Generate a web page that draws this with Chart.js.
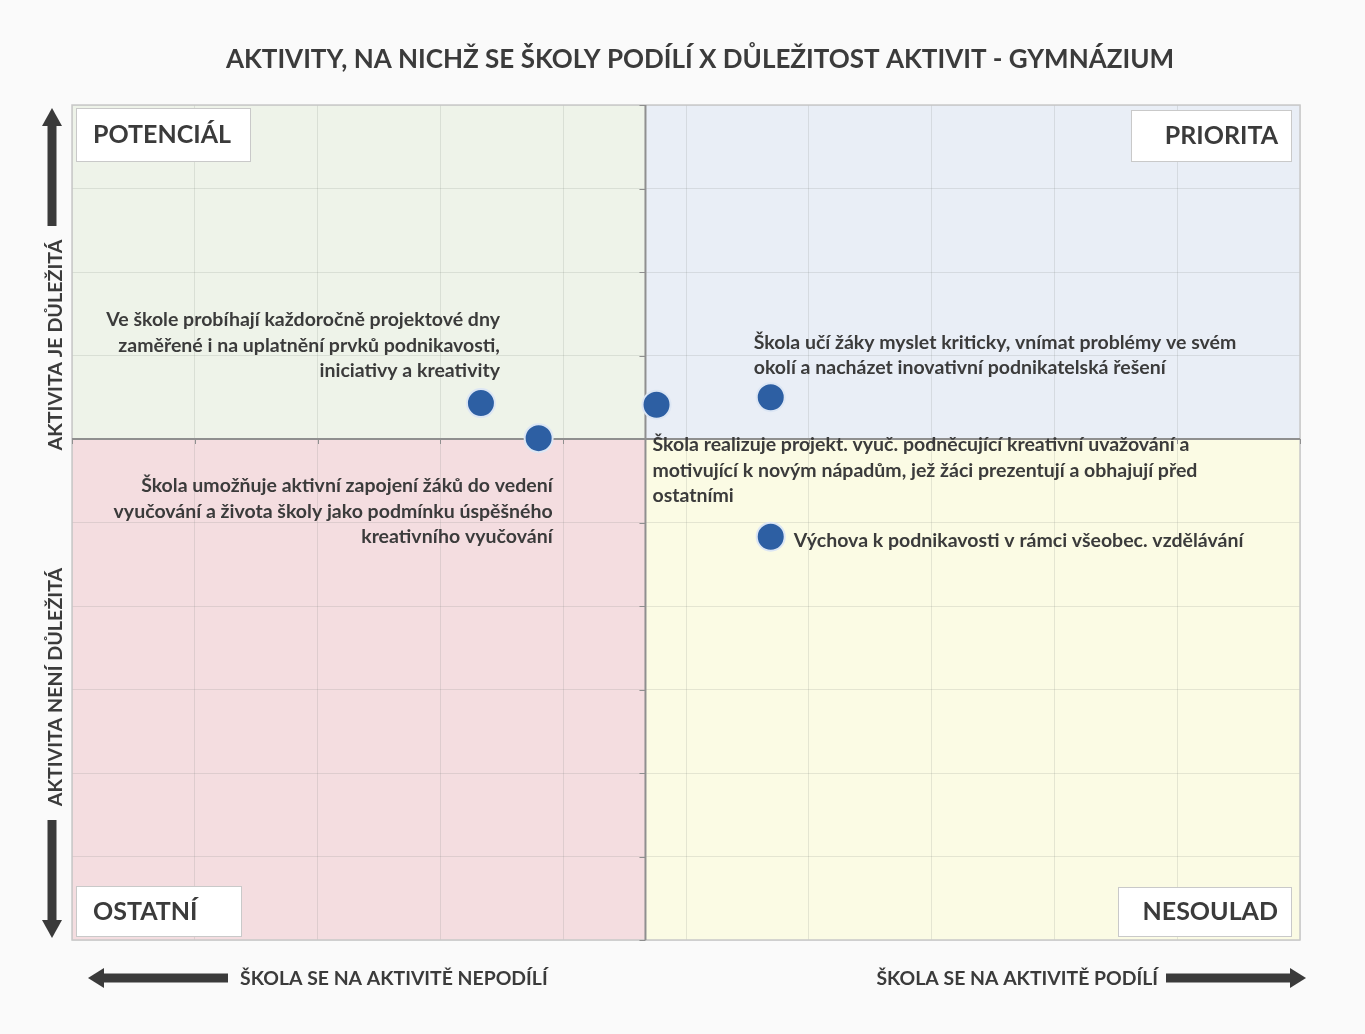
<!DOCTYPE html>
<html lang="cs">
<head>
<meta charset="utf-8">
<title>Aktivity x důležitost - gymnázium</title>
<script src="https://cdn.jsdelivr.net/npm/chart.js@4.4.1/dist/chart.umd.min.js"></script>
<style>
    html, body { margin: 0; padding: 0; background: #fafafa; }
    #wrap { width: 1365px; height: 1034px; position: relative; }
</style>
</head>
<body>
<div id="wrap"><canvas id="matrix" width="1365" height="1034"></canvas></div>
<script>
// Data
const chartTitle = 'AKTIVITY, NA NICHŽ SE ŠKOLY PODÍLÍ X DŮLEŽITOST AKTIVIT - GYMNÁZIUM';
const quadrantNames = ['POTENCIÁL', 'PRIORITA', 'OSTATNÍ', 'NESOULAD'];
const xAxisLabels = ['ŠKOLA SE NA AKTIVITĚ NEPODÍLÍ', 'ŠKOLA SE NA AKTIVITĚ PODÍLÍ'];
const yAxisLabels = ['AKTIVITA JE DŮLEŽITÁ', 'AKTIVITA NENÍ DŮLEŽITÁ'];

const activityLabels = [
    ['Ve škole probíhají každoročně projektové dny', 'zaměřené i na uplatnění prvků podnikavosti,', 'iniciativy a kreativity'],
    ['Škola umožňuje aktivní zapojení žáků do vedení', 'vyučování a života školy jako podmínku úspěšného', 'kreativního vyučování'],
    ['Škola realizuje projekt. vyuč. podněcující kreativní uvažování a', 'motivující k novým nápadům, jež žáci prezentují a obhajují před', 'ostatními'],
    ['Škola učí žáky myslet kriticky, vnímat problémy ve svém', 'okolí a nacházet inovativní podnikatelská řešení'],
    ['Výchova k podnikavosti v rámci všeobec. vzdělávání']
];
const participation = [3.33, 3.80, 4.76, 5.69, 5.69];
const importance = [6.43, 6.01, 6.41, 6.50, 4.83];

// axis range and where the quadrant axes cross
const axisMin = 0;
const axisMax = 10;
const xCross = 4.67;
const yCross = 6;

// label placement relative to each point (pixels)
const labelLayout = [
    { dx: 19, dy: -83, align: 'right' },
    { dx: 14, dy: 48, align: 'right' },
    { dx: -4, dy: 40, align: 'left' },
    { dx: -17, dy: -55, align: 'left' },
    { dx: 23, dy: 4, align: 'left' }
];

const colors = {
    text: '#3b3b3b',
    topLeft: '#eef3e9',
    topRight: '#e9eef6',
    bottomLeft: '#f4dde0',
    bottomRight: '#fbfbe4',
    grid: 'rgba(110, 120, 110, 0.16)',
    axis: '#8f8f8f',
    border: '#c9c9c9',
    point: '#2d5fa3',
    pointBorder: '#dce6f4',
    arrow: '#3a3a3a'
};
const FONT = 'Lato, "Open Sans", sans-serif';

function drawArrow(ctx, x1, y1, x2, y2, shaft, head, headLen) {
    const ang = Math.atan2(y2 - y1, x2 - x1);
    const len = Math.hypot(x2 - x1, y2 - y1);
    ctx.save();
    ctx.translate(x1, y1);
    ctx.rotate(ang);
    ctx.fillStyle = colors.arrow;
    ctx.fillRect(0, -shaft / 2, len - headLen, shaft);
    ctx.beginPath();
    ctx.moveTo(len, 0);
    ctx.lineTo(len - headLen, -head / 2);
    ctx.lineTo(len - headLen, head / 2);
    ctx.closePath();
    ctx.fill();
    ctx.restore();
}

function labelBox(ctx, x, y, w, h, text, align) {
    ctx.save();
    ctx.fillStyle = '#ffffff';
    ctx.fillRect(x, y, w, h);
    ctx.strokeStyle = colors.border;
    ctx.lineWidth = 1;
    ctx.strokeRect(x + 0.5, y + 0.5, w - 1, h - 1);
    ctx.fillStyle = colors.text;
    ctx.font = 'bold 25px ' + FONT;
    ctx.textBaseline = 'middle';
    if (align === 'right') {
        ctx.textAlign = 'right';
        ctx.fillText(text, x + w - 14, y + h / 2);
    } else {
        ctx.textAlign = 'left';
        ctx.fillText(text, x + 17, y + h / 2);
    }
    ctx.restore();
}

// Quadrant backgrounds, crossing axes, captions
const quadrantPlugin = {
    id: 'quadrants',
    beforeDraw(chart) {
        const { ctx, chartArea: a, scales: { x, y } } = chart;
        const cx = x.getPixelForValue(xCross);
        const cy = y.getPixelForValue(yCross);
        ctx.save();
        ctx.fillStyle = colors.topLeft;
        ctx.fillRect(a.left, a.top, cx - a.left, cy - a.top);
        ctx.fillStyle = colors.topRight;
        ctx.fillRect(cx, a.top, a.right - cx, cy - a.top);
        ctx.fillStyle = colors.bottomLeft;
        ctx.fillRect(a.left, cy, cx - a.left, a.bottom - cy);
        ctx.fillStyle = colors.bottomRight;
        ctx.fillRect(cx, cy, a.right - cx, a.bottom - cy);
        ctx.restore();
    },
    beforeDatasetsDraw(chart) {
        const { ctx, chartArea: a, scales: { x, y } } = chart;
        const cx = x.getPixelForValue(xCross);
        const cy = y.getPixelForValue(yCross);
        ctx.save();
        // outer frame
        ctx.strokeStyle = colors.border;
        ctx.lineWidth = 1.5;
        ctx.strokeRect(a.left, a.top, a.right - a.left, a.bottom - a.top);
        // crossing axes
        ctx.strokeStyle = colors.axis;
        ctx.lineWidth = 2;
        ctx.beginPath();
        ctx.moveTo(cx, a.top);
        ctx.lineTo(cx, a.bottom);
        ctx.moveTo(a.left, cy);
        ctx.lineTo(a.right, cy);
        ctx.stroke();
        ctx.lineWidth = 1;
        ctx.beginPath();
        y.ticks.forEach(t => {
            const py = Math.round(y.getPixelForValue(t.value)) + 0.5;
            ctx.moveTo(cx - 6, py);
            ctx.lineTo(cx, py);
        });
        x.ticks.forEach(t => {
            const px = Math.round(x.getPixelForValue(t.value)) + 0.5;
            ctx.moveTo(px, cy);
            ctx.lineTo(px, cy + 5);
        });
        ctx.stroke();
        ctx.restore();
    },
    afterDatasetsDraw(chart) {
        const { ctx, chartArea: a } = chart;
        const meta = chart.getDatasetMeta(0);

        // point captions
        ctx.save();
        ctx.fillStyle = colors.text;
        ctx.font = 'bold 19.5px ' + FONT;
        ctx.textBaseline = 'middle';
        meta.data.forEach((pt, i) => {
            const lay = labelLayout[i];
            ctx.textAlign = lay.align;
            activityLabels[i].forEach((line, k) => {
                ctx.fillText(line, pt.x + lay.dx, pt.y + lay.dy + k * 25.5);
            });
        });
        ctx.restore();

        // quadrant name boxes
        labelBox(ctx, a.left + 4, a.top + 3, 175, 54, quadrantNames[0], 'left');
        labelBox(ctx, a.right - 169, a.top + 5, 161, 52, quadrantNames[1], 'right');
        labelBox(ctx, a.left + 4, a.bottom - 54, 166, 51, quadrantNames[2], 'left');
        labelBox(ctx, a.right - 182, a.bottom - 53, 174, 50, quadrantNames[3], 'right');

        // title
        ctx.save();
        ctx.fillStyle = colors.text;
        ctx.font = 'bold 26px ' + FONT;
        ctx.textAlign = 'center';
        ctx.textBaseline = 'middle';
        ctx.fillText(chartTitle, 700, 60);

        // x direction captions and arrows
        ctx.font = 'bold 19.4px ' + FONT;
        ctx.textAlign = 'left';
        ctx.fillText(xAxisLabels[0], 240, 979);
        ctx.textAlign = 'right';
        ctx.fillText(xAxisLabels[1], 1158, 979);
        drawArrow(ctx, 228, 978, 88, 978, 9, 20, 16);
        drawArrow(ctx, 1166, 978, 1306, 978, 9, 20, 16);

        // y direction captions and arrows
        ctx.textAlign = 'center';
        ctx.font = 'bold 19.7px ' + FONT;
        ctx.save();
        ctx.translate(56, 345);
        ctx.rotate(-Math.PI / 2);
        ctx.fillText(yAxisLabels[0], 0, 0);
        ctx.restore();
        ctx.save();
        ctx.translate(56, 687);
        ctx.rotate(-Math.PI / 2);
        ctx.fillText(yAxisLabels[1], 0, 0);
        ctx.restore();
        drawArrow(ctx, 52, 226, 52, 108, 9, 20, 18);
        drawArrow(ctx, 52, 820, 52, 938, 9, 20, 18);
        ctx.restore();
    }
};

const points = participation.map((v, i) => ({ x: v, y: importance[i] }));

new Chart(document.getElementById('matrix'), {
    type: 'scatter',
    data: {
        datasets: [{
            label: 'Aktivity',
            data: points,
            backgroundColor: colors.point,
            borderColor: colors.pointBorder,
            borderWidth: 2,
            pointRadius: 14,
            pointHoverRadius: 14
        }]
    },
    options: {
        responsive: false,
        animation: false,
        layout: {
            padding: { left: 72, right: 65, top: 105, bottom: 94 }
        },
        plugins: {
            legend: { display: false },
            tooltip: { enabled: false },
            title: { display: false }
        },
        scales: {
            x: {
                type: 'linear',
                min: axisMin,
                max: axisMax,
                ticks: { display: false, stepSize: 1 },
                border: { display: false },
                grid: { color: colors.grid, drawTicks: false, lineWidth: 1 }
            },
            y: {
                type: 'linear',
                min: axisMin,
                max: axisMax,
                ticks: { display: false, stepSize: 1 },
                border: { display: false },
                grid: { color: colors.grid, drawTicks: false, lineWidth: 1 }
            }
        }
    },
    plugins: [quadrantPlugin]
});
</script>
</body>
</html>
